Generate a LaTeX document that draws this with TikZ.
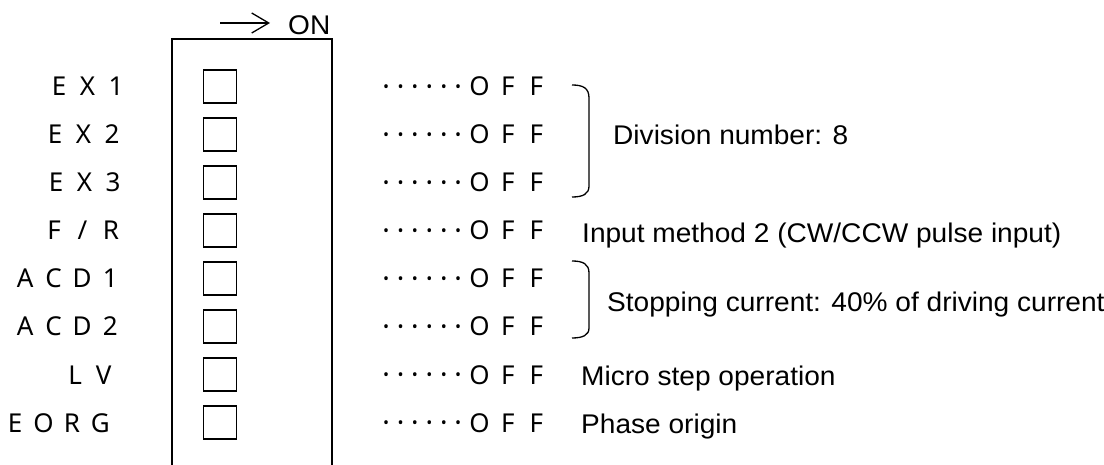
\documentclass[tikz,border=0pt]{standalone}
\usepackage{fontspec}
\usetikzlibrary{arrows.meta}
\newfontfamily\lfont{Noto Sans}
\newfontfamily\afont[FakeStretch=1.04]{Liberation Sans}
\makeatletter
\def\spreadchars#1{\spr@x#1\relax}
\def\spr@x#1{\ifx#1\relax\else\makebox[28.4pt][c]{#1}\expandafter\spr@x\fi}
\makeatother
\newcommand\onedot{\makebox[14.4pt][c]{\raisebox{3.4pt}{\fontsize{16}{16}\selectfont •}}}
\newcommand\dotsix{\onedot\onedot\onedot\onedot\onedot\onedot}
\tikzset{
  lbl/.style={anchor=base west, inner sep=0pt, font=\lfont\fontsize{26}{30}\selectfont},
  offtxt/.style={anchor=base west, inner sep=0pt, font=\lfont\fontsize{26}{30}\selectfont},
  desc/.style={anchor=base west, inner sep=0pt, font=\afont\fontsize{27}{32}\selectfont},
  swbox/.style={draw, line width=1.3pt, minimum width=33pt, minimum height=33pt, inner sep=0pt},
  frame/.style={line width=1.4pt},
  brk/.style={line width=1.3pt},
}
\begin{document}
\begin{tikzpicture}[x=1pt,y=-1pt]
\useasboundingbox (0,0) rectangle (1104,465);
% frame
\coordinate (fbl) at (172,466);
\coordinate (ftl) at (172,39);
\coordinate (ftr) at (332,39);
\coordinate (fbr) at (332,466);
\draw[frame] (fbl) -- (ftl) -- (ftr) -- (fbr);
% arrow ON
\coordinate (arrS) at (220,23);
\coordinate (arrE) at (270,23);
\draw[line width=1.3pt, -{Straight Barb[length=17pt,width=20pt,line width=1.3pt]}] (arrS) -- (arrE);
\node[desc, anchor=base west] (on) at (288,35) {ON};
% rows
\foreach \i/\yc in {1/86.5,2/134.5,3/182.5,4/230.5,5/278.5,6/326.5,7/374.5,8/422.5}{
  \node[swbox] (s\i) at (220,\yc) {};
  \node[offtxt] (off\i) at (378.8,\yc+9.5) {\dotsix\spreadchars{OFF}};
}
\node[lbl] (l1) at (44.8,96) {\spreadchars{EX1}};
\node[lbl] (l2) at (40.8,144) {\spreadchars{EX2}};
\node[lbl] (l3) at (41.8,192) {\spreadchars{EX3}};
\node[lbl] (l4) at (39.8,240) {\spreadchars{F/R}};
\node[lbl] (l5) at (10.8,288) {\spreadchars{ACD1}};
\node[lbl] (l6) at (10.8,336) {\spreadchars{ACD2}};
\node[lbl] (l7) at (60.8,384) {\spreadchars{LV}};
\node[lbl] (l8) at (0.8,432) {\spreadchars{EORG}};
% brackets
\draw[brk] (572,85) .. controls (583,85) and (589,88) .. (589,98) -- (589,186) .. controls (589,194) and (583,197) .. (572,197);
\draw[brk] (572,261) .. controls (583,261) and (589,264) .. (589,273) -- (589,328) .. controls (589,335) and (583,338) .. (572,338);
% descriptions
\node[desc] (d1) at (613,145) {Division number: 8};
\node[desc] (d2) at (582,243) {Input method 2 (CW/CCW pulse input)};
\node[desc] (d3) at (607,312) {Stopping current: 40\% of driving current};
\node[desc] (d4) at (581,385) {Micro step operation};
\node[desc] (d5) at (581,433) {Phase origin};
\end{tikzpicture}
\end{document}
